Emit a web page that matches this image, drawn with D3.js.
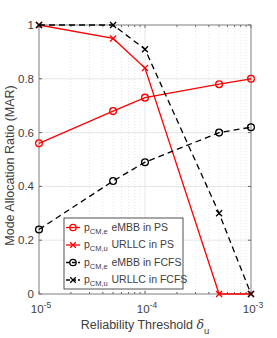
<!DOCTYPE html>
<html>
<head>
<meta charset="utf-8">
<script src="https://d3js.org/d3.v7.min.js"></script>
<style>
  body { margin: 0; background: #fff; }
  svg { display: block; font-family: "Liberation Sans", Arial, sans-serif; }
</style>
</head>
<body>
<div id="chart"></div>
<script>
// Reliability thresholds (x) and mode allocation ratios
const thresholds = [1e-5, 5e-5, 1e-4, 5e-4, 1e-3];
const psEmbb = [0.56, 0.68, 0.73, 0.78, 0.80];
const psUrllc = [1.0, 0.95, 0.84, 0, 0];
const fcfsEmbb = [0.24, 0.42, 0.49, 0.60, 0.62];
const fcfsUrllc = [1.0, 1.0, 0.91, 0.30, 0];

const xTicks = [1e-5, 1e-4, 1e-3];
const xTickExp = ['-5', '-4', '-3'];
const yTicks = [0, 0.2, 0.4, 0.6, 0.8, 1];

const series = [
    { sub: 'CM,e', label: 'eMBB in PS', values: psEmbb, color: '#ff0000', dash: null, marker: 'circle' },
    { sub: 'CM,u', label: 'URLLC in PS', values: psUrllc, color: '#ff0000', dash: null, marker: 'cross' },
    { sub: 'CM,e', label: 'eMBB in FCFS', values: fcfsEmbb, color: '#000000', dash: '6,4', marker: 'circle' },
    { sub: 'CM,u', label: 'URLLC in FCFS', values: fcfsUrllc, color: '#000000', dash: '6,4', marker: 'cross' }
];

const width = 277, height = 338;
const margin = { top: 25, right: 26, bottom: 44, left: 39 };
const innerW = width - margin.left - margin.right;
const innerH = height - margin.top - margin.bottom;
const textColor = '#404040';

const svg = d3.select('#chart').append('svg')
    .attr('width', width)
    .attr('height', height);

const g = svg.append('g').attr('transform', `translate(${margin.left},${margin.top})`);

const x = d3.scaleLog().domain([1e-5, 1e-3]).range([0, innerW]);
const y = d3.scaleLinear().domain([0, 1]).range([innerH, 0]);

// minor log positions
const minorTicks = [];
[1e-5, 1e-4].forEach(base => {
    for (let k = 2; k <= 9; k++) minorTicks.push(base * k);
});

// Grid
g.append('g').selectAll('line.ymaj')
    .data(yTicks.slice(1, -1))
    .enter().append('line')
    .attr('x1', 0).attr('x2', innerW)
    .attr('y1', d => y(d)).attr('y2', d => y(d))
    .attr('stroke', '#e6e6e6').attr('stroke-width', 1);

g.append('g').selectAll('line.xmin')
    .data(minorTicks)
    .enter().append('line')
    .attr('x1', d => x(d)).attr('x2', d => x(d))
    .attr('y1', 0).attr('y2', innerH)
    .attr('stroke', '#e0e0e0').attr('stroke-width', 0.8)
    .attr('stroke-dasharray', '1,2');

g.append('g').selectAll('line.xmaj')
    .data([1e-4])
    .enter().append('line')
    .attr('x1', d => x(d)).attr('x2', d => x(d))
    .attr('y1', 0).attr('y2', innerH)
    .attr('stroke', '#e6e6e6').attr('stroke-width', 1);

// Axes (ticks inside, box on)
const axisColor = '#262626';
const tickLen = 3;
const ticks = g.append('g').attr('stroke', axisColor).attr('stroke-width', 0.7);
yTicks.forEach(t => {
    ticks.append('line').attr('x1', 0).attr('x2', tickLen).attr('y1', y(t)).attr('y2', y(t));
    ticks.append('line').attr('x1', innerW).attr('x2', innerW - tickLen).attr('y1', y(t)).attr('y2', y(t));
});
xTicks.concat(minorTicks).forEach(t => {
    const len = xTicks.includes(t) ? tickLen : 2;
    ticks.append('line').attr('x1', x(t)).attr('x2', x(t)).attr('y1', innerH).attr('y2', innerH - len);
    ticks.append('line').attr('x1', x(t)).attr('x2', x(t)).attr('y1', 0).attr('y2', len);
});
g.append('rect')
    .attr('width', innerW).attr('height', innerH)
    .attr('fill', 'none').attr('stroke', '#7f7f7f').attr('stroke-width', 1);

// Tick labels
g.append('g').selectAll('text')
    .data(yTicks)
    .enter().append('text')
    .attr('x', -5).attr('y', d => y(d) + 4)
    .attr('text-anchor', 'end')
    .attr('font-size', 11.5)
    .attr('fill', textColor)
    .text(d => d === 0 || d === 1 ? d : d.toFixed(1));

const xl = g.append('g').selectAll('text')
    .data(xTicks)
    .enter().append('text')
    .attr('x', d => x(d) + 2).attr('y', innerH + 19)
    .attr('text-anchor', 'middle')
    .attr('font-size', 11.5)
    .attr('fill', textColor);
xl.append('tspan').text('10');
xl.append('tspan').attr('dy', -5).attr('font-size', 8.5).text((d, i) => xTickExp[i]);

// Axis labels
const xLab = svg.append('text')
    .attr('x', margin.left + innerW / 2).attr('y', 329)
    .attr('text-anchor', 'middle')
    .attr('font-size', 12.5)
    .attr('fill', textColor);
xLab.append('tspan').text('Reliability Threshold ');
xLab.append('tspan').attr('font-style', 'italic').attr('font-family', 'DejaVu Serif, serif').text('δ');
xLab.append('tspan').attr('dy', 5).attr('font-size', 9.5).text('u');

svg.append('text')
    .attr('transform', `translate(14,${margin.top + innerH / 2 + 6}) rotate(-90)`)
    .attr('text-anchor', 'middle')
    .attr('font-size', 12.5)
    .attr('fill', textColor)
    .text('Mode Allocation Ratio (MAR)');

// Lines and markers
const line = d3.line()
    .x((d, i) => x(thresholds[i]))
    .y(d => y(d));

function drawMarker(sel, type, color, r) {
    if (type === 'circle') {
        sel.append('circle').attr('r', r).attr('fill', 'none')
            .attr('stroke', color).attr('stroke-width', 1.3);
    } else {
        sel.append('path').attr('d', `M${-r},${-r}L${r},${r}M${-r},${r}L${r},${-r}`)
            .attr('stroke', color).attr('stroke-width', 1.3);
    }
}

series.forEach(s => {
    g.append('path')
        .datum(s.values)
        .attr('d', line)
        .attr('fill', 'none')
        .attr('stroke', s.color)
        .attr('stroke-width', 1.3)
        .attr('stroke-dasharray', s.dash);
    s.values.forEach((v, i) => {
        const m = g.append('g').attr('transform', `translate(${x(thresholds[i])},${y(v)})`);
        drawMarker(m, s.marker, s.color, s.marker === 'circle' ? 3.4 : 3);
    });
});

// Legend
const lg = svg.append('g').attr('transform', 'translate(64,218)');
lg.append('rect')
    .attr('width', 119).attr('height', 71)
    .attr('fill', '#fff').attr('stroke', '#262626').attr('stroke-width', 0.8);

series.forEach((s, i) => {
    const row = lg.append('g').attr('transform', `translate(0,${9.5 + i * 17.5})`);
    row.append('line')
        .attr('x1', 2).attr('x2', 16).attr('y1', 0).attr('y2', 0)
        .attr('stroke', s.color).attr('stroke-width', 1.3)
        .attr('stroke-dasharray', s.dash ? '4,2' : null);
    const m = row.append('g').attr('transform', 'translate(9,0)');
    drawMarker(m, s.marker, s.color, s.marker === 'circle' ? 3.2 : 2.8);
    const t = row.append('text')
        .attr('x', 20).attr('y', 3)
        .attr('font-size', 10.5)
        .attr('fill', textColor);
    t.append('tspan').text('p');
    t.append('tspan').attr('dy', 3).attr('font-size', 7.5).text(s.sub);
    t.append('tspan').attr('x', 47.5).attr('dy', -3).text(s.label);
});
</script>
</body>
</html>
